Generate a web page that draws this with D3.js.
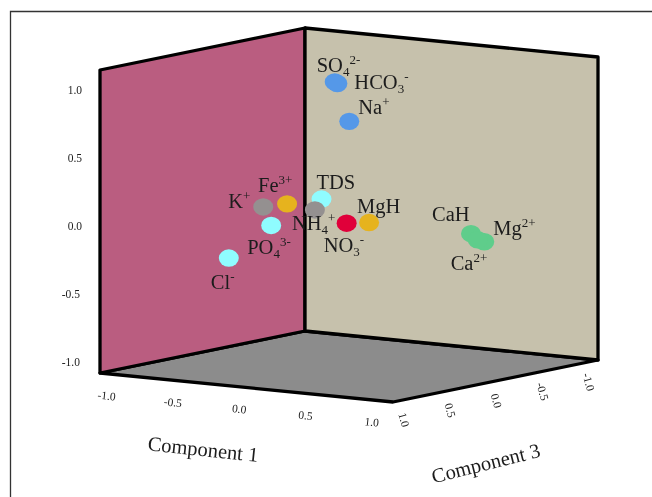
<!DOCTYPE html>
<html>
<head>
<meta charset="utf-8">
<script src="https://cdn.jsdelivr.net/npm/d3@7"></script>
<style>
html,body{margin:0;padding:0;background:#fff;}
svg{display:block;filter:blur(0.5px);}
text{font-family:"Liberation Serif","Times New Roman",serif;fill:#1c1c1c;}
</style>
</head>
<body>
<svg id="c" width="652" height="497"></svg>
<script>
// Chart data
const labelBase = ["SO","HCO","Na","Fe","K","TDS","NH","PO","Cl","NO","MgH","CaH","Mg","Ca"];
const labelSub  = ["4","3","","","","","4","4","","3","","","",""];
const labelSup  = ["2-","-","+","3+","+","","+","3-","-","-","","","2+","2+"];
const component1 = [0.01,0.03,0.05,-0.21,-0.39,-0.02,-0.07,-0.33,-0.58,0.10,0.13,0.62,0.72,0.67];
const component2 = [1.02,1.01,0.72,0.13,0.09,0.17,0.085,-0.04,-0.29,-0.01,-0.03,-0.12,-0.17,-0.16];
const component3 = [0.1,0.1,0.0,0.3,0.3,0.2,0.2,0.3,0.4,0.1,-0.1,-0.5,-0.5,-0.5];
const groupColor = ["#5598e8","#5598e8","#5598e8","#e6b31e","#949090","#8ffcff","#949090","#8ffcff","#8ffcff","#e0003a","#e6b31e","#5fcd8b","#5fcd8b","#5fcd8b"];
const ticks1 = [-1,-0.5,0,0.5,1];
const ticks2 = [-1,-0.5,0,0.5,1];
const ticks3 = [-1,-0.5,0,0.5,1];
const axisName1 = "Component 1";
const axisName3 = "Component 3";
const domain1 = [-1.05,1.16], domain2 = [-1.08,1.147], domain3 = [1.12,-1.1];

// label placement relative to its marker
const labelDx = [-18,17,9,-29,-35,-5,-23,-24,-18,-23,-12,-39,9,-27];
const labelDy = [-10,5,-7,-12,1,-10,20,29,31,29,-10,-13,-7,30];

// Scales: each component is a displacement along one edge of the box
const s1x = d3.scaleLinear().domain(domain1).range([0,293]);
const s1y = d3.scaleLinear().domain(domain1).range([0,29]);
const s3x = d3.scaleLinear().domain(domain3).range([0,205]);
const s3y = d3.scaleLinear().domain(domain3).range([0,-42]);
const s2y = d3.scaleLinear().domain(domain2).range([0,-303]);
const ox = 100, oy = 373;
const project = (a,b,c)=>[ox+s1x(a)+s3x(c), oy+s1y(a)+s3y(c)+s2y(b)];

const svg = d3.select("#c");
// outer frame (top and left)
svg.append("path").attr("d","M10.5,497V11.5H652").attr("fill","none").attr("stroke","#333").attr("stroke-width",1.3);

const [a0,a1]=domain1,[b0,b1]=domain2,[c0,c1]=domain3;
const poly = pts => d3.line()(pts.map(p=>project(...p)))+"Z";
const edgeStyle = g => g.attr("stroke","#000").attr("stroke-width",3.3).attr("stroke-linejoin","round");

svg.append("path").attr("d",poly([[a0,b0,c0],[a1,b0,c0],[a1,b0,c1],[a0,b0,c1]])).attr("fill","#8c8c8c").call(edgeStyle);
svg.append("path").attr("d",poly([[a0,b0,c0],[a0,b1,c0],[a0,b1,c1],[a0,b0,c1]])).attr("fill","#ba5d80").call(edgeStyle);
svg.append("path").attr("d",poly([[a0,b0,c1],[a0,b1,c1],[a1,b1,c1],[a1,b0,c1]])).attr("fill","#c6c1ac").call(edgeStyle);

// tick labels (plain hyphen for negatives, as in the reference)
const fmt = d => d.toFixed(1);
const tickFont = 11.5;
svg.append("g").selectAll("text").data(ticks2).join("text")
  .attr("x",d=>d<0?80:82).attr("y",d=>project(a0,d,c0)[1]+4)
  .attr("text-anchor","end").attr("font-size",tickFont).text(fmt);
svg.append("g").selectAll("text").data(ticks1).join("text")
  .attr("transform",d=>{const p=project(d,b0,c0);return `translate(${p[0]},${p[1]+22}) rotate(6)`;})
  .attr("text-anchor","middle").attr("dy","0.35em").attr("font-size",tickFont).text(fmt);
svg.append("g").selectAll("text").data(ticks3).join("text")
  .attr("transform",d=>{const p=project(a1,b0,d);return `translate(${p[0]},${p[1]+20}) rotate(74)`;})
  .attr("text-anchor","middle").attr("dy","0.35em").attr("font-size",tickFont).text(fmt);

// axis titles
svg.append("text").attr("transform","translate(203,450) rotate(6)").attr("text-anchor","middle")
  .attr("dy","0.3em").attr("font-size",20.5).text(axisName1);
svg.append("text").attr("transform","translate(486,464) rotate(-14)").attr("text-anchor","middle")
  .attr("dy","0.3em").attr("font-size",20.5).text(axisName3);

// points
const idx = d3.range(labelBase.length);
svg.append("g").selectAll("ellipse").data(idx).join("ellipse")
  .attr("cx",i=>project(component1[i],component2[i],component3[i])[0])
  .attr("cy",i=>project(component1[i],component2[i],component3[i])[1])
  .attr("rx",10).attr("ry",8.7).attr("fill",i=>groupColor[i]);

// labels
const labs = svg.append("g").selectAll("text").data(idx).join("text")
  .attr("x",i=>project(component1[i],component2[i],component3[i])[0]+labelDx[i])
  .attr("y",i=>project(component1[i],component2[i],component3[i])[1]+labelDy[i])
  .attr("font-size",20.5);
labs.each(function(i){
  const t=d3.select(this);
  t.append("tspan").text(labelBase[i]);
  let shift=0;
  if(labelSub[i]){t.append("tspan").attr("dy",4).attr("font-size",13).text(labelSub[i]);shift=4;}
  if(labelSup[i]){t.append("tspan").attr("dy",-8-shift).attr("font-size",13).text(labelSup[i]);}
});
</script>
</body>
</html>
